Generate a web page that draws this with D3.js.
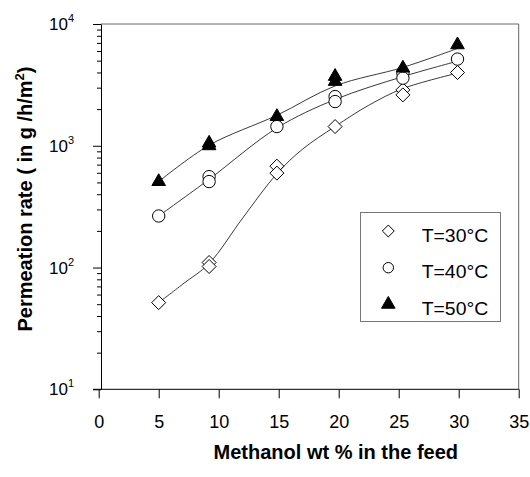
<!DOCTYPE html>
<html>
<head>
  <meta charset="UTF-8">
  <title>Permeation rate vs methanol wt %</title>
  <script src="https://cdnjs.cloudflare.com/ajax/libs/d3/7.8.5/d3.min.js"></script>
  <style>
    body { margin: 0; background: #fff; }
    svg { display: block; font-family: "Liberation Sans", Arial, sans-serif; }
  </style>
</head>
<body>
<script>
  // measured points (x = methanol wt %, y = permeation rate)
  var x30 = [5, 9.2, 9.2, 14.85, 14.85, 19.7, 25.35, 25.35, 29.9];
  var y30 = [51.5, 110, 102, 680, 596, 1438, 2878, 2617, 3993];
  var x40 = [5, 9.2, 9.2, 14.85, 19.7, 19.7, 25.35, 25.35, 29.9];
  var y40 = [265, 558, 508, 1438, 2536, 2307, 3953, 3592, 5150];
  var x50 = [5, 9.2, 9.2, 14.85, 19.7, 19.7, 25.35, 29.9];
  var y50 = [508, 1050, 1000, 1738, 3710, 3375, 4345, 6745];

  // fitted curves
  var fit30X = [5, 7, 9.2, 12, 14.85, 17, 19.7, 22.5, 25.35, 29.9];
  var fit30 = [51.5, 73, 108, 255, 590, 940, 1440, 2150, 2950, 3950];
  var fitX = [5, 9.2, 14.85, 19.7, 25.35, 29.9];
  var fit40 = [265, 530, 1400, 2400, 3700, 4950];
  var fit50 = [508, 1010, 1780, 3100, 4400, 6300];

  var xTicks = [0, 5, 10, 15, 20, 25, 30, 35];
  var yMajor = [10, 100, 1000, 10000];
  var yExp = ["1", "2", "3", "4"];
  var legendLabels = ["T=30°C", "T=40°C", "T=50°C"];

  var W = 530, H = 477;
  var svg = d3.select("body").append("svg").attr("width", W).attr("height", H);

  var x = d3.scaleLinear().domain([0, 35]).range([98.7, 518.7]);
  var y = d3.scaleLog().domain([10, 10000]).range([389.3, 24]);
  var axisX = 101;

  // frame (top and right)
  svg.append("path")
    .attr("d", "M" + axisX + "," + y(10000) + "H" + x(35) + "V" + y(10))
    .attr("fill", "none").attr("stroke", "#666").attr("stroke-width", 1);

  // x axis
  var gx = svg.append("g").attr("transform", "translate(0," + y(10) + ")")
    .call(d3.axisBottom(x).tickValues(xTicks).tickSize(9).tickPadding(17).tickSizeOuter(0));
  gx.select(".domain").attr("d", "M" + (axisX - 8) + ",0H" + x(35));
  gx.selectAll("text").attr("font-size", 18).attr("fill", "#000")
    .attr("font-family", "Liberation Sans, Arial, sans-serif");

  // y axis minor ticks
  var yMinor = [];
  yMajor.slice(0, 3).forEach(function (d) {
    for (var k = 2; k <= 9; k++) yMinor.push(d * k);
  });
  var gyMin = svg.append("g").attr("transform", "translate(" + axisX + ",0)")
    .call(d3.axisLeft(y).tickValues(yMinor).tickSize(4).tickFormat(""));
  gyMin.select(".domain").remove();

  var gy = svg.append("g").attr("transform", "translate(" + axisX + ",0)")
    .call(d3.axisLeft(y).tickValues(yMajor).tickSize(8).tickSizeOuter(0).tickFormat(""));

  var yl = svg.append("g").selectAll("text").data(yMajor).join("text")
    .attr("x", 74).attr("y", function (d) { return y(d) + 6; })
    .attr("text-anchor", "end").attr("font-size", 17);
  yl.append("tspan").text("10");
  yl.append("tspan").attr("dy", -8).attr("font-size", 11)
    .text(function (d, i) { return yExp[i]; });

  // fitted lines
  var line = d3.line()
    .x(function (d) { return x(d[0]); })
    .y(function (d) { return y(d[1]); })
    .curve(d3.curveCatmullRom.alpha(0.5));
  [[fit30X, fit30], [fitX, fit40], [fitX, fit50]].forEach(function (f) {
    svg.append("path")
      .datum(f[0].map(function (v, i) { return [v, f[1][i]]; }))
      .attr("d", line)
      .attr("fill", "none").attr("stroke", "#222").attr("stroke-width", 0.9);
  });

  // markers
  var sym = [
    { type: d3.symbolDiamond2, size: 125, fill: "#fff" },
    { type: d3.symbolCircle, size: 120, fill: "#fff" },
    { type: d3.symbolTriangle, size: 80, fill: "#000" }
  ];
  var series = [[x30, y30], [x40, y40], [x50, y50]];
  series.forEach(function (s, j) {
    var pts = s[0].map(function (v, i) { return [v, s[1][i]]; });
    svg.append("g").selectAll("path").data(pts).join("path")
      .attr("transform", function (d) { return "translate(" + x(d[0]) + "," + y(d[1]) + ")"; })
      .attr("d", d3.symbol().type(sym[j].type).size(sym[j].size))
      .attr("fill", sym[j].fill).attr("stroke", "#000").attr("stroke-width", 1);
  });

  // legend
  var lg = svg.append("g");
  lg.append("rect").attr("x", 360.5).attr("y", 212.5).attr("width", 140).attr("height", 109)
    .attr("fill", "#fff").attr("stroke", "#777").attr("stroke-width", 1);
  var rows = [231, 267.7, 304.3];
  var lsym = [
    { type: d3.symbolDiamond2, size: 90 },
    { type: d3.symbolCircle, size: 85 },
    { type: d3.symbolTriangle, size: 80 }
  ];
  legendLabels.forEach(function (t, i) {
    lg.append("path")
      .attr("transform", "translate(388.3," + rows[i] + ")")
      .attr("d", d3.symbol().type(lsym[i].type).size(lsym[i].size))
      .attr("fill", sym[i].fill).attr("stroke", "#000").attr("stroke-width", 1);
    lg.append("text").attr("x", 421.7).attr("y", rows[i] + 10.5)
      .attr("font-size", 18).attr("textLength", 66.5).attr("lengthAdjust", "spacingAndGlyphs")
      .text(t);
  });

  // axis titles
  svg.append("text").attr("x", 335.8).attr("y", 459.3)
    .attr("text-anchor", "middle").attr("font-size", 20).attr("font-weight", "bold")
    .text("Methanol wt % in the feed");

  var yt = svg.append("text")
    .attr("transform", "translate(32,199) rotate(-90)")
    .attr("text-anchor", "middle").attr("font-size", 20).attr("font-weight", "bold");
  yt.append("tspan").text("Permeation rate ( in g /h/m");
  yt.append("tspan").attr("dy", -8).attr("font-size", 13).text("2");
  yt.append("tspan").attr("dy", 8).text(")");
</script>
</body>
</html>
